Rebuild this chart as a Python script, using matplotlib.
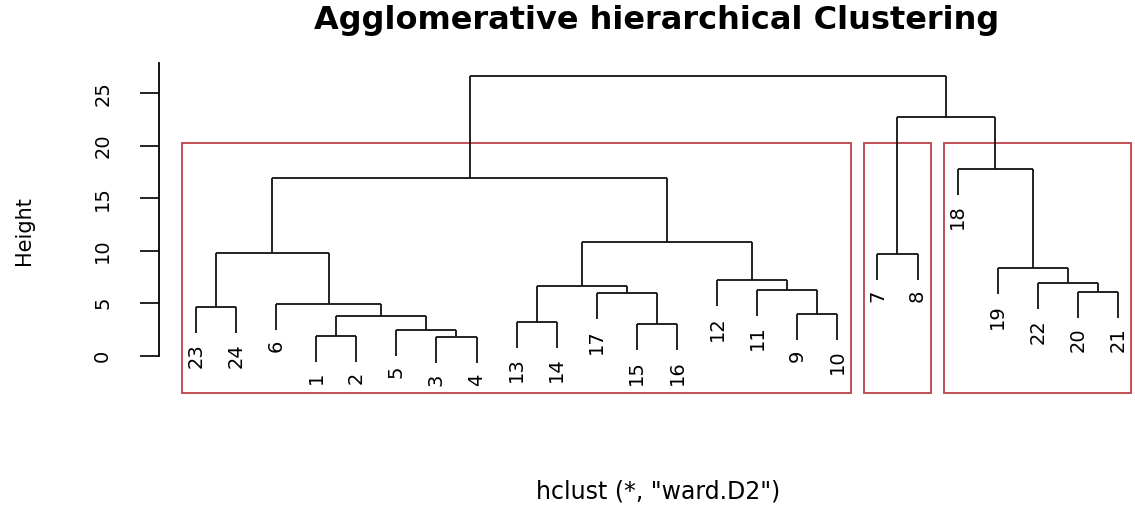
import numpy as np
import matplotlib
matplotlib.use("Agg")
import matplotlib.pyplot as plt
from matplotlib.patches import Rectangle

# leaf labels in plotting order (left to right)
leaf_order = [23, 24, 6, 1, 2, 5, 3, 4, 13, 14, 17, 15, 16, 12, 11, 9, 10,
              7, 8, 18, 19, 22, 20, 21]
# R-style merge table: negative = leaf id, positive = earlier merge (1-based)
merge_left = [-3, -1, -5, -15, -13, 2, -9, -23, -6, -17, -20, -11, 5, -22,
              -12, -19, -7, 8, 13, 18, -18, 17, 20]
merge_right = [-4, -2, 1, -16, -14, 3, -10, -24, 6, 4, -21, 7, 10, 11,
               12, 14, -8, 9, 15, 19, 16, 21, 22]
merge_height = [1.75, 1.91, 2.45, 3.00, 3.24, 3.79, 3.98, 4.62, 4.93, 5.95,
                6.11, 6.30, 6.68, 6.91, 7.22, 8.34, 9.73, 9.83, 10.85, 16.93,
                17.84, 22.71, 26.69]
cluster_sizes = [17, 2, 5]  # rect.hclust(k = 3)
y_ticks = [0, 5, 10, 15, 20, 25]

hang = 0.1 * (max(merge_height) - min(merge_height))
leaf_x = {lab: i + 1 for i, lab in enumerate(leaf_order)}

fig = plt.figure(figsize=(11.35, 5.07), dpi=100)
ax = fig.add_axes([159 / 1135, 1 - 393 / 507, (1135 - 159) / 1135, 330 / 507])
ax.set_xlim(0.08, 0.08 + 976 / 40.09)
ax.set_ylim(-3.56, 27.9)

lc = "#111111"
lw = 1.3
node_x = []
for i in range(len(merge_height)):
    h = merge_height[i]
    xs = []
    for child in (merge_left[i], merge_right[i]):
        if child < 0:
            x = leaf_x[-child]
            y_end = h - hang
            ax.plot([x, x], [h, y_end], color=lc, lw=lw, solid_capstyle="butt")
            ax.annotate(str(-child), (x, y_end), xytext=(0, -7),
                        textcoords="offset points", rotation=90,
                        ha="center", va="top", fontsize=14)
        else:
            x = node_x[child - 1]
            ax.plot([x, x], [h, merge_height[child - 1]], color=lc, lw=lw,
                    solid_capstyle="butt")
        xs.append(x)
    ax.plot(xs, [h, h], color=lc, lw=lw, solid_capstyle="butt")
    node_x.append(np.mean(xs))

# rect.hclust boxes
top = np.mean(sorted(merge_height)[::-1][1:3])
bottom = ax.get_ylim()[0]
m = np.concatenate([[0], np.cumsum(cluster_sizes)])
for j in range(len(cluster_sizes)):
    x0 = m[j] + 0.66
    x1 = m[j + 1] + 0.33
    ax.add_patch(Rectangle((x0, bottom), x1 - x0, top - bottom, fill=False,
                           edgecolor="#bb4148", lw=1.3, clip_on=False))

for s in ["top", "right", "bottom"]:
    ax.spines[s].set_visible(False)
ax.spines["left"].set_bounds(0, ax.get_ylim()[1])
ax.spines["left"].set_linewidth(1.3)
ax.set_xticks([])
ax.set_yticks(y_ticks)
ax.set_yticklabels([str(t) for t in y_ticks], rotation=90, va="center")
ax.tick_params(axis="y", length=13.7, width=1.3, pad=20, labelsize=14,
               color=lc)

fig.text(657 / 1135, 1 - 21 / 507, "Agglomerative hierarchical Clustering",
         ha="center", va="center", fontsize=23, fontweight="bold")
fig.text(24 / 1135, 1 - 231 / 507, "Height", rotation=90, ha="center",
         va="center", fontsize=15)
fig.text(658 / 1135, 1 - 492 / 507, 'hclust (*, "ward.D2")', ha="center",
         va="center", fontsize=17)

fig.savefig("out.png", dpi=100)
